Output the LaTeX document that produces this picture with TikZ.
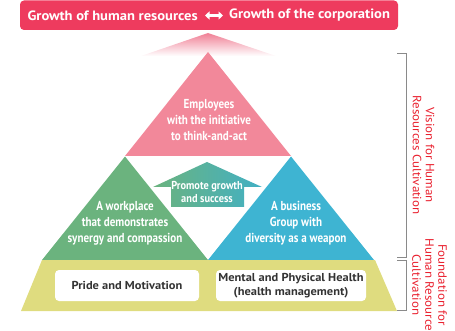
\documentclass[tikz,border=0pt]{standalone}
\usepackage{fontspec}
\setmainfont{PT Sans}
\newfontfamily\condfont{PT Sans}[FakeStretch=0.85]
\newfontfamily\promfont{PT Sans}[FakeStretch=0.9]
\newfontfamily\widefont{PT Sans}[FakeStretch=1.08]
\usetikzlibrary{arrows.meta}

\definecolor{bannerred}{HTML}{EE3B5E}
\definecolor{roofpink}{HTML}{F07F95}
\definecolor{tipink}{HTML}{F2889A}
\definecolor{tigreen}{HTML}{6BB37E}
\definecolor{tiblue}{HTML}{3EB4D2}
\definecolor{baseolive}{HTML}{DFDC7F}
\definecolor{labelred}{HTML}{E9202E}
\definecolor{bracketgray}{HTML}{8A8A8A}
\definecolor{darktext}{HTML}{333333}
\definecolor{arrowteal}{HTML}{42B0C4}

\tikzset{
  bannertext/.style={inner sep=0pt, text=white, font=\widefont\fontsize{13.5}{16}\selectfont\bfseries},
  tritext/.style={inner sep=0pt, align=center, text=white, font=\condfont\fontsize{13}{16}\selectfont\bfseries},
  promotetext/.style={inner sep=0pt, align=center, text=white, font=\promfont\fontsize{11.5}{12.5}\selectfont\bfseries},
  basebox/.style={fill=white, rounded corners=4pt},
  basetext/.style={inner sep=0pt, align=center, text=darktext, font=\widefont\fontsize{11.5}{14}\selectfont\bfseries},
  sidelabel/.style={inner sep=0pt, align=center, rotate=-90, text=labelred, font=\widefont\fontsize{12}{13}\selectfont},
  bracket/.style={draw=bracketgray, line width=0.8pt},
  dblarrow/.style={draw=white, line width=2.2pt, {Triangle[length=4.5pt,width=8pt]}-{Triangle[length=4.5pt,width=8pt]}}
}

\begin{document}
\begin{tikzpicture}[x=1pt, y=-1pt]
  \useasboundingbox (0,0) rectangle (455,331);

  % banner
  \fill[bannerred, rounded corners=4pt] (20,0.5) rectangle (398,30);
  \node[bannertext, anchor=east] (hr) at (198,15.5) {Growth of human resources};
  \node[bannertext, anchor=west] (corp) at (229,15.5) {Growth of the corporation};
  \draw[dblarrow, shorten <=7pt, shorten >=6pt] (hr.east) -- (corp.west);

  % fading roof above the pyramid
  \shade[top color=roofpink, bottom color=white] (208,33) -- (276,56) -- (141,56) -- cycle;

  % pyramid
  \fill[tipink] (208,52) -- (291,156) -- (125,156) -- cycle;
  \fill[tigreen] (125,156.5) -- (208,260) -- (42,260) -- cycle;
  \fill[tiblue] (291,156.5) -- (374,260) -- (208,260) -- cycle;
  \fill[baseolive] (42,260) -- (375,260) -- (397,311) -- (21,311) -- cycle;

  % base boxes
  \fill[basebox] (55,270) rectangle (199,301);
  \fill[basebox] (216,270) rectangle (366,301);

  % central arrow
  \shade[left color=tigreen, right color=arrowteal]
    (207,162) -- (262,187) -- (244,187) -- (244,207) -- (171,207) -- (171,187) -- (153,187) -- cycle;

  % texts
  \node[tritext] (emp) at (209,120) {Employees\\with the initiative\\to think-and-act};
  \node[tritext] (work) at (125,223) {A workplace\\that demonstrates\\synergy and compassion};
  \node[tritext] (biz) at (296,223) {A business\\Group with\\diversity as a weapon};
  \node[promotetext] (prom) at (207,192) {Promote growth\\and success};
  \node[basetext] (pride) at (127,285.5) {Pride and Motivation};
  \node[basetext] (health) at (291,286) {Mental and Physical Health\\(health management)};

  % brackets
  \draw[bracket] (397,53) -- (406,53) -- (406,257) -- (397,257);
  \draw[bracket] (397,260) -- (406,260) -- (406,310) -- (397,310);

  % side labels
  \node[sidelabel] (vision) at (423.5,155) {Vision for Human\\Resources Cultivation};
  \node[sidelabel] (found) at (429.5,285) {Foundation for\\Human Resource\\Cultivation};
\end{tikzpicture}
\end{document}
